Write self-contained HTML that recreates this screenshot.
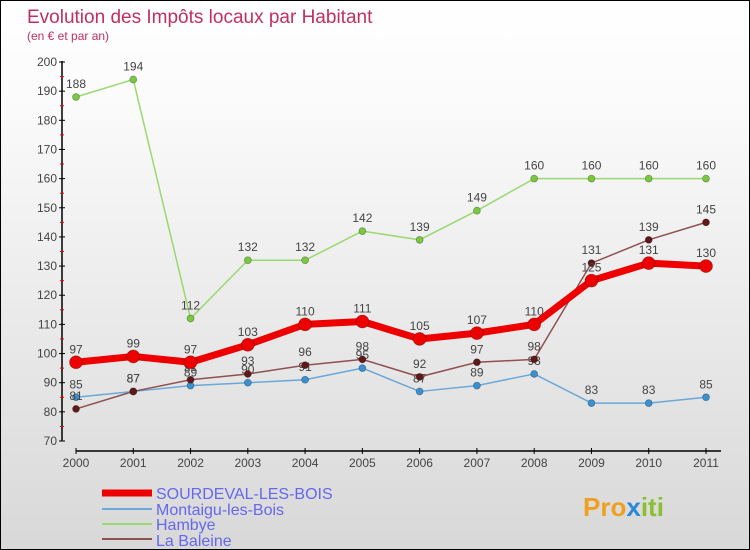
<!DOCTYPE html>
<html><head><meta charset="utf-8"><style>
body{margin:0;}
#wrap{width:750px;height:550px;position:relative;box-sizing:border-box;border:1px solid #000;background:linear-gradient(#fff,#fafafa 20%,#d8d8d8);overflow:hidden;font-family:"Liberation Sans",sans-serif;}
</style></head><body>
<div id="wrap">
<svg id="chart" width="750" height="550" style="position:absolute;left:0;top:0">
<text x="26" y="22" font-size="19" fill="#c0305e">Evolution des Impôts locaux par Habitant</text>
<text x="26" y="39" font-size="12" fill="#c0305e">(en € et par an)</text>
<g id="axes"></g><g id="series"></g>
<g>
<line x1="101" y1="492" x2="151" y2="492" stroke="#e00" stroke-width="7"/>
<text x="155" y="498" font-size="16" fill="#6666ee">SOURDEVAL-LES-BOIS</text>
<line x1="101" y1="508" x2="151" y2="508" stroke="#6aa8d8" stroke-width="2"/>
<text x="155" y="514" font-size="16" fill="#6666ee">Montaigu-les-Bois</text>
<line x1="101" y1="523" x2="151" y2="523" stroke="#9ad870" stroke-width="2"/>
<text x="155" y="529" font-size="16" fill="#6666ee">Hambye</text>
<line x1="101" y1="538" x2="151" y2="538" stroke="#905050" stroke-width="2"/>
<text x="155" y="545" font-size="16" fill="#6666ee">La Baleine</text>
</g>
<text x="582" y="515" font-size="26" font-weight="bold" fill="#f0a020">Pro<tspan fill="#2a8ad8">x</tspan><tspan fill="#8ac030">iti</tspan></text>
</svg>
</div>
<script>
const years=[2000,2001,2002,2003,2004,2005,2006,2007,2008,2009,2010,2011];
const sourdeval=[97,99,97,103,110,111,105,107,110,125,131,130];
const montaigu=[85,87,89,90,91,95,87,89,93,83,83,85];
const hambye=[188,194,112,132,132,142,139,149,160,160,160,160];
const baleine=[81,87,91,93,96,98,92,97,98,131,139,145];
const yTicks=[70,80,90,100,110,120,130,140,150,160,170,180,190,200];
const NS="http://www.w3.org/2000/svg";
const X=i=>75+i*(630/11);
const Y=v=>440-(v-70)*(379/130);
function mk(tag,attrs,parent){const e=document.createElementNS(NS,tag);for(const k in attrs)e.setAttribute(k,attrs[k]);parent.appendChild(e);return e;}
const ax=document.getElementById('axes');
const yAxis=mk('line',{x1:61,y1:60,x2:61,y2:440,stroke:'#000','stroke-width':1.5},ax);


const xAxis=mk('line',{x1:75,y1:450,x2:720,y2:450,stroke:'#000','stroke-width':1.5},ax);


yTicks.forEach((v,i)=>{
 mk('line',{x1:58,x2:64,y1:Y(v),y2:Y(v),stroke:'#000'},ax);
 if(i<yTicks.length-1) mk('line',{x1:59,x2:63,y1:Y(v+5),y2:Y(v+5),stroke:'#e00'},ax);
 const t=mk('text',{x:56,y:Y(v)+4,'font-size':12,fill:'#444','text-anchor':'end'},ax);t.textContent=v;
 
 
});
years.forEach((y,i)=>{
 mk('line',{x1:X(i),x2:X(i),y1:447,y2:453,stroke:'#000'},ax);
 const t=mk('text',{x:X(i),y:466,'font-size':12,fill:'#444','text-anchor':'middle'},ax);t.textContent=y;
 
 
});
const sg=document.getElementById('series');
function series(vals,color,w,r,pfill,name){
 const g=mk('g',{},sg);
 
 
 mk('polyline',{points:vals.map((v,i)=>X(i)+','+Y(v)).join(' '),fill:'none',stroke:color,'stroke-width':w,'stroke-linejoin':'round'},g);
 vals.forEach((v,i)=>{
  const c=mk('circle',{cx:X(i),cy:Y(v),r:r,fill:pfill,stroke:'rgba(0,0,0,0.3)','stroke-width':0.8},g);
  
  
  const t=mk('text',{x:X(i),y:Y(v)-9,'font-size':12,fill:'#444','text-anchor':'middle'},g);t.textContent=v;
  
  
 });
}
series(hambye,'#9ad870',1.5,3.5,'#7ac840','series-hambye');
series(montaigu,'#6aa8d8',1.5,3.5,'#3a90d0','series-montaigu');
series(baleine,'#905050',1.5,3.5,'#601818','series-la-baleine');
series(sourdeval,'#ee0000',7,6.5,'#ee0000','series-sourdeval');
</script>
</body></html>
